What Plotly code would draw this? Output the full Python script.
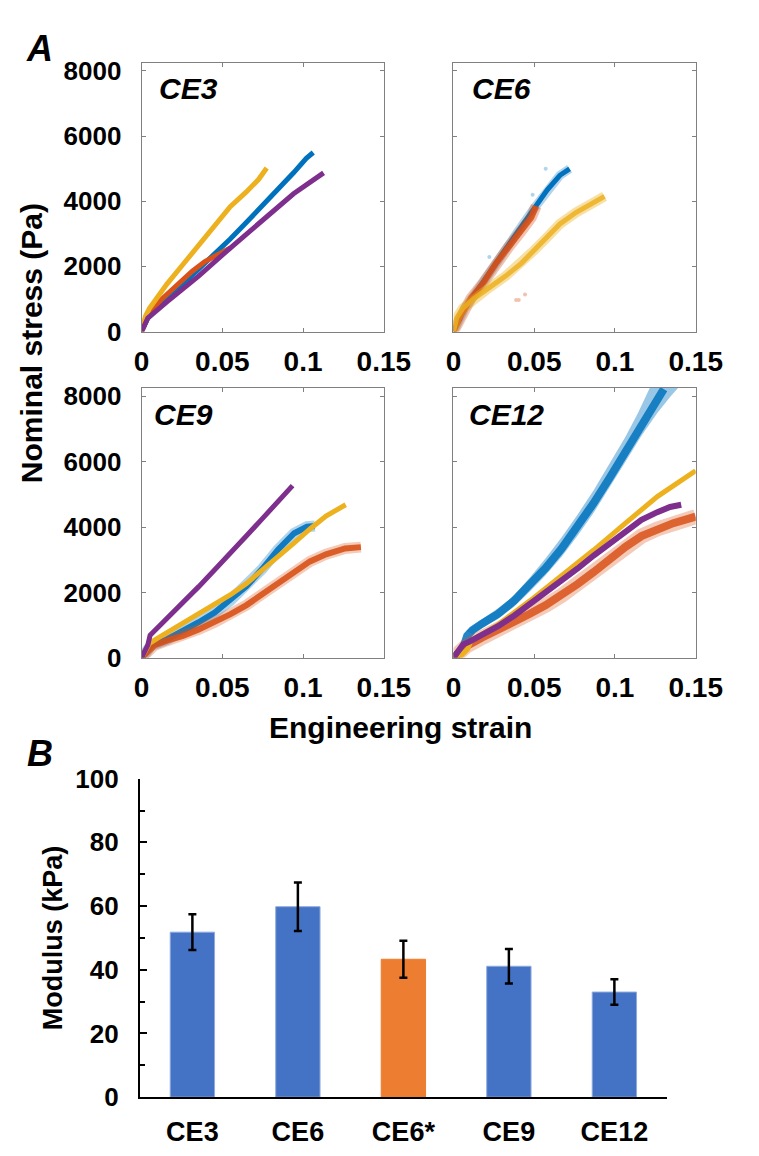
import plotly.graph_objects as go

# ---------------- Panel A data (strain, nominal stress in Pa) ----------------
# CE3
ce3_blue_x = [0, 0.0039, 0.0098, 0.0255, 0.0392, 0.0490, 0.0549, 0.0647, 0.0745, 0.0843, 0.0941, 0.1020, 0.1063]
ce3_blue_y = [0, 416, 713, 1455, 2050, 2564, 2842, 3337, 3832, 4327, 4871, 5317, 5495]
ce3_orange_x = [0, 0.0049, 0.0118, 0.0216, 0.0314, 0.0392, 0.0471, 0.0549]
ce3_orange_y = [0, 564, 960, 1406, 1851, 2149, 2366, 2564]
ce3_yellow_x = [0, 0.0024, 0.0049, 0.0098, 0.0157, 0.0255, 0.0353, 0.0451, 0.0549, 0.0647, 0.0725, 0.0775]
ce3_yellow_y = [0, 465, 713, 1059, 1455, 2050, 2644, 3238, 3832, 4277, 4673, 5020]
ce3_purple_x = [0, 0.0039, 0.0157, 0.0353, 0.0549, 0.0745, 0.0941, 0.1127]
ce3_purple_y = [0, 416, 911, 1703, 2564, 3386, 4228, 4871]

# CE6
ce6_blue_x = [0, 0.0030, 0.0069, 0.0128, 0.0207, 0.0305, 0.0404, 0.0502, 0.0581, 0.0659, 0.0719]
ce6_blue_y = [0, 318, 716, 1114, 1711, 2408, 3104, 3801, 4348, 4796, 4995]
ce6_orange_x = [0, 0.0049, 0.0108, 0.0187, 0.0266, 0.0344, 0.0423, 0.0482, 0.0512]
ce6_orange_y = [0, 517, 1015, 1512, 2109, 2607, 3104, 3502, 3851]
ce6_yellow_x = [0, 0.0020, 0.0059, 0.0128, 0.0226, 0.0325, 0.0423, 0.0502, 0.0581, 0.0659, 0.0758, 0.0856, 0.0935]
ce6_yellow_y = [0, 418, 716, 1015, 1363, 1711, 2109, 2507, 2905, 3303, 3652, 3950, 4149]
ce6_orange_outlier_x = [0.0388, 0.0404, 0.0443]
ce6_orange_outlier_y = [965, 965, 1134]
ce6_blue_outlier_x = [0.0222, 0.0571, 0.0490]
ce6_blue_outlier_y = [2289, 4995, 4200]

# CE9
ce9_blue_x = [0, 0.0059, 0.0157, 0.0256, 0.0354, 0.0453, 0.0551, 0.0650, 0.0748, 0.0846, 0.0945, 0.1024, 0.1073]
ce9_blue_y = [0, 376, 564, 812, 1089, 1386, 1762, 2198, 2723, 3317, 3812, 4010, 4030]
ce9_orange_x = [0, 0.0039, 0.0079, 0.0157, 0.0256, 0.0354, 0.0453, 0.0551, 0.0650, 0.0748, 0.0846, 0.0945, 0.1043, 0.1142, 0.1260, 0.1358]
ce9_orange_y = [0, 198, 376, 525, 673, 871, 1089, 1337, 1614, 1950, 2307, 2653, 2950, 3168, 3347, 3386]
ce9_yellow_x = [0, 0.0049, 0.0098, 0.0157, 0.0256, 0.0354, 0.0453, 0.0551, 0.0650, 0.0748, 0.0846, 0.0945, 0.1043, 0.1142, 0.1264]
ce9_yellow_y = [0, 446, 594, 772, 1059, 1356, 1634, 1931, 2277, 2673, 3069, 3515, 3941, 4337, 4683]
ce9_purple_x = [0, 0.0039, 0.0053, 0.0098, 0.0157, 0.0256, 0.0354, 0.0453, 0.0551, 0.0650, 0.0748, 0.0846, 0.0935]
ce9_purple_y = [0, 396, 693, 911, 1188, 1683, 2178, 2693, 3188, 3733, 4257, 4802, 5267]

# CE12
ce12_blue_x = [0, 0.0059, 0.0085, 0.0118, 0.0178, 0.0276, 0.0375, 0.0473, 0.0572, 0.0671, 0.0769, 0.0868, 0.0966, 0.1065, 0.1164, 0.1243, 0.1302]
ce12_blue_y = [0, 277, 673, 851, 1050, 1347, 1743, 2238, 2752, 3347, 4020, 4733, 5495, 6297, 7109, 7802, 8218]
# scatter-cloud envelope of the CE12 blue series (upper-left edge and lower-right edge)
ce12_blue_upper_x = [0.0079, 0.0158, 0.0276, 0.0375, 0.0473, 0.0572, 0.0671, 0.0769, 0.0868, 0.0966, 0.1065, 0.1144, 0.1203, 0.1215]
ce12_blue_upper_y = [822, 1119, 1515, 1911, 2455, 3050, 3693, 4386, 5129, 5921, 6762, 7505, 8099, 8250]
ce12_blue_lower_x = [0.0118, 0.0178, 0.0276, 0.0375, 0.0473, 0.0572, 0.0671, 0.0769, 0.0868, 0.0966, 0.1065, 0.1164, 0.1262, 0.1341, 0.1381, 0.1390]
ce12_blue_lower_y = [723, 921, 1188, 1564, 2030, 2535, 3099, 3743, 4436, 5208, 6000, 6792, 7485, 7980, 8198, 8250]
ce12_orange_x = [0, 0.0079, 0.0178, 0.0276, 0.0375, 0.0473, 0.0572, 0.0671, 0.0769, 0.0868, 0.0966, 0.1065, 0.1164, 0.1262, 0.1361, 0.1499]
ce12_orange_y = [0, 356, 624, 851, 1089, 1347, 1614, 1911, 2257, 2624, 3020, 3396, 3723, 3941, 4119, 4317]
ce12_yellow_x = [0, 0.0049, 0.0089, 0.0108, 0.0178, 0.0276, 0.0473, 0.0671, 0.0868, 0.1065, 0.1262, 0.1381, 0.1499]
ce12_yellow_y = [0, 79, 277, 525, 723, 1020, 1743, 2505, 3297, 4119, 4931, 5327, 5723]
ce12_purple_x = [0, 0.0030, 0.0059, 0.0099, 0.0178, 0.0276, 0.0375, 0.0473, 0.0572, 0.0671, 0.0769, 0.0868, 0.0966, 0.1065, 0.1164, 0.1262, 0.1341, 0.1410]
ce12_purple_y = [0, 228, 406, 495, 693, 970, 1287, 1634, 1990, 2356, 2733, 3129, 3495, 3891, 4218, 4455, 4614, 4683]

panel_names = ["CE3", "CE6", "CE9", "CE12"]
strain_ticks = [0, 0.05, 0.1, 0.15]
strain_ticktext = ["0", "0.05", "0.1", "0.15"]
stress_ticks = [0, 2000, 4000, 6000, 8000]
stress_ticktext = ["0", "2000", "4000", "6000", "8000"]

# ---------------- Panel B data ----------------
bar_categories = ["CE3", "CE6", "CE6*", "CE9", "CE12"]
bar_modulus = [51.8, 59.8, 43.3, 41.1, 33.0]
bar_error = [5.6, 7.6, 5.8, 5.4, 4.0]
bar_colors = ["#4472C4", "#4472C4", "#ED7D31", "#4472C4", "#4472C4"]
bar_edge_colors = ["#8FAADC", "#8FAADC", "#ED7D31", "#8FAADC", "#8FAADC"]

# ---------------- styling ----------------
BLUE = "#0072BD"
ORANGE = "#D95319"
YELLOW = "#EDB120"
PURPLE = "#7E2F8E"
FONT = "Liberation Sans, Arial, sans-serif"

fig = go.Figure()

def add_line(xs, ys, col, width, op, xa, ya):
    fig.add_trace(go.Scatter(x=xs, y=ys, mode="lines", xaxis=xa, yaxis=ya,
                             line=dict(color=col, width=width), opacity=op, hoverinfo="skip"))

# CE12 blue cloud envelope (drawn first, underneath everything in that panel)
fig.add_trace(go.Scatter(x=ce12_blue_upper_x + ce12_blue_lower_x[::-1],
                         y=ce12_blue_upper_y + ce12_blue_lower_y[::-1],
                         mode="lines", fill="toself", fillcolor="rgba(0,114,189,0.40)",
                         line=dict(width=0), xaxis="x4", yaxis="y4", hoverinfo="skip"))

# (x, y, color, band_width, band_opacity, core_width, core_opacity)
panels = {
    1: [(ce3_blue_x, ce3_blue_y, BLUE, 0, 0, 5, 1.0),
        (ce3_orange_x, ce3_orange_y, ORANGE, 0, 0, 5, 1.0),
        (ce3_yellow_x, ce3_yellow_y, YELLOW, 0, 0, 5, 1.0),
        (ce3_purple_x, ce3_purple_y, PURPLE, 0, 0, 5, 1.0)],
    2: [(ce6_blue_x, ce6_blue_y, BLUE, 9, 0.3, 5, 1.0),
        (ce6_orange_x, ce6_orange_y, ORANGE, 11, 0.35, 6, 0.9),
        (ce6_yellow_x, ce6_yellow_y, YELLOW, 10, 0.4, 5, 0.85)],
    3: [(ce9_blue_x, ce9_blue_y, BLUE, 11, 0.3, 6, 0.9),
        (ce9_orange_x, ce9_orange_y, ORANGE, 11, 0.3, 6, 0.9),
        (ce9_yellow_x, ce9_yellow_y, YELLOW, 0, 0, 5, 1.0),
        (ce9_purple_x, ce9_purple_y, PURPLE, 0, 0, 5, 1.0)],
    4: [(ce12_blue_x, ce12_blue_y, BLUE, 0, 0, 8, 0.85),
        (ce12_orange_x, ce12_orange_y, ORANGE, 15, 0.3, 8, 0.85),
        (ce12_yellow_x, ce12_yellow_y, YELLOW, 0, 0, 5, 1.0),
        (ce12_purple_x, ce12_purple_y, PURPLE, 0, 0, 6, 1.0)],
}

for i, series in panels.items():
    xa = "x" if i == 1 else f"x{i}"
    ya = "y" if i == 1 else f"y{i}"
    for (xs, ys, col, bw, bo, cw, co) in series:
        if bw > 0:
            add_line(xs, ys, col, bw, bo, xa, ya)
        add_line(xs, ys, col, cw, co, xa, ya)

# outlier scatter points in CE6
fig.add_trace(go.Scatter(x=ce6_orange_outlier_x, y=ce6_orange_outlier_y, mode="markers", xaxis="x2", yaxis="y2",
                         marker=dict(color=ORANGE, size=4), opacity=0.35, hoverinfo="skip"))
fig.add_trace(go.Scatter(x=ce6_blue_outlier_x, y=ce6_blue_outlier_y, mode="markers", xaxis="x2", yaxis="y2",
                         marker=dict(color=BLUE, size=4), opacity=0.3, hoverinfo="skip"))

# bar chart
fig.add_trace(go.Bar(x=bar_categories, y=bar_modulus, xaxis="x5", yaxis="y5",
                     marker=dict(color=bar_colors, line=dict(width=1, color=bar_edge_colors)),
                     error_y=dict(type="data", array=bar_error, color="black", thickness=2.5, width=4),
                     hoverinfo="skip"))

W, H = 759, 1156
def dx(a, b):
    return [a / W, b / W]
def dy(top, bottom):
    return [1 - bottom / H, 1 - top / H]

grey = "#808080"
common_x = dict(range=[0, 0.15], tickvals=strain_ticks, ticktext=strain_ticktext, showline=True, linecolor=grey,
                linewidth=1, mirror="ticks", ticks="inside", ticklen=4, tickcolor=grey, showgrid=False, zeroline=False,
                tickfont=dict(family=FONT, size=28, color="black", weight="bold"), ticklabelstandoff=5)
common_y = dict(range=[0, 8250], tickvals=stress_ticks, ticktext=stress_ticktext, showline=True, linecolor=grey,
                linewidth=1, mirror="ticks", ticks="inside", ticklen=4, tickcolor=grey, showgrid=False, zeroline=False,
                tickfont=dict(family=FONT, size=26, color="black", weight="bold"), ticklabelstandoff=14)

L1, L2 = (140, 394), (467, 721)
T1, T2 = (49, 325), (383, 660)

fig.update_layout(
    width=W, height=H, margin=dict(l=0, r=0, t=0, b=0),
    paper_bgcolor="white", plot_bgcolor="white", showlegend=False,
    xaxis=dict(common_x, domain=dx(*L1), anchor="y"),
    yaxis=dict(common_y, domain=dy(*T1), anchor="x"),
    xaxis2=dict(common_x, domain=dx(*L2), anchor="y2"),
    yaxis2=dict(common_y, domain=dy(*T1), anchor="x2", showticklabels=False),
    xaxis3=dict(common_x, domain=dx(*L1), anchor="y3"),
    yaxis3=dict(common_y, domain=dy(*T2), anchor="x3"),
    xaxis4=dict(common_x, domain=dx(*L2), anchor="y4"),
    yaxis4=dict(common_y, domain=dy(*T2), anchor="x4", showticklabels=False),
    xaxis5=dict(domain=dx(138, 691), anchor="y5", showline=True, linecolor="black", linewidth=1.5,
                ticks="", showgrid=False, zeroline=False,
                tickfont=dict(family=FONT, size=27, color="black", weight="bold"), ticklabelstandoff=10),
    yaxis5=dict(domain=dy(784, 1111), anchor="x5", range=[0, 100], dtick=20, showline=True, linecolor="black",
                linewidth=1.5, ticks="inside", ticklen=8, tickcolor="black", tickwidth=1.5, showgrid=False,
                zeroline=False, tickfont=dict(family=FONT, size=26, color="black", weight="bold"),
                ticklabelstandoff=14,
                minor=dict(dtick=10, ticks="inside", ticklen=6, tickcolor="black", tickwidth=1.5, showgrid=False)),
    bargap=0.58,
)

ann = []
def add_text(x, y, text, size, italic=False, xanchor="center", yanchor="middle", angle=0):
    ann.append(dict(x=x / W, y=1 - y / H, xref="paper", yref="paper", text=text, showarrow=False,
                    xanchor=xanchor, yanchor=yanchor, textangle=angle,
                    font=dict(family=FONT, size=size, color="black", weight="bold",
                              style="italic" if italic else "normal")))

add_text(33, 34, "A", 36, italic=True)
add_text(34, 758, "B", 36, italic=True)
label_pos = [(156, 75), (484, 75), (151, 410), (481, 410)]
for name, (px, py) in zip(panel_names, label_pos):
    add_text(px, py, name, 30, italic=True, xanchor="left")
add_text(24, 337, "Nominal stress (Pa)", 30, angle=-90)
add_text(411, 731, "Engineering strain", 30)
add_text(48, 947, "Modulus (kPa)", 27, angle=-90)
fig.update_layout(annotations=ann)

fig.write_html("out.html")
